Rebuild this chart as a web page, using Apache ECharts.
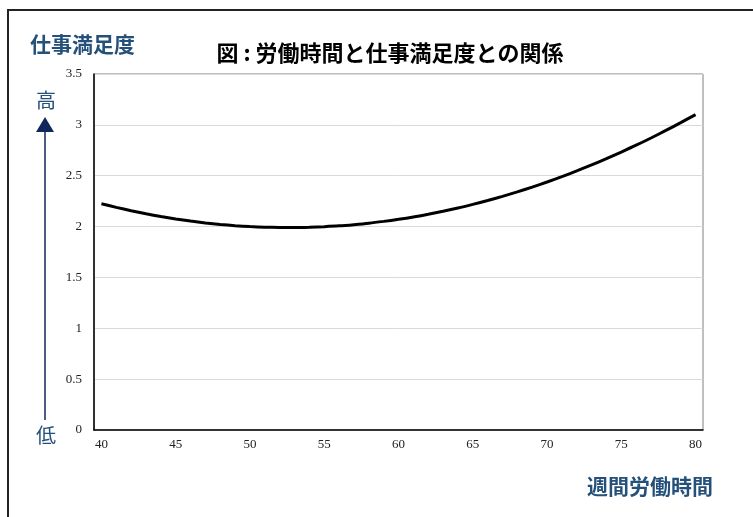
<!DOCTYPE html>
<html>
<head>
<meta charset="utf-8">
<script src="https://cdn.jsdelivr.net/npm/echarts@6/dist/echarts.min.js"></script>
<style>
  html, body { margin: 0; padding: 0; background: #fff; }
  #chart { width: 753px; height: 517px; }
</style>
</head>
<body>
<div id="chart"></div>
<script>
// weekly working hours (category axis, one per hour)
const hours = ['40','41','42','43','44','45','46','47','48','49','50',
  '51','52','53','54','55','56','57','58','59','60',
  '61','62','63','64','65','66','67','68','69','70',
  '71','72','73','74','75','76','77','78','79','80'];
// job satisfaction
const satisfaction = [2.225, 2.189, 2.156, 2.126, 2.099, 2.075, 2.054, 2.036, 2.021, 2.009, 2.000,
  1.994, 1.991, 1.990, 1.993, 1.999, 2.007, 2.019, 2.033, 2.051, 2.071,
  2.094, 2.121, 2.150, 2.182, 2.218, 2.256, 2.297, 2.341, 2.388, 2.438,
  2.491, 2.547, 2.606, 2.668, 2.733, 2.800, 2.871, 2.945, 3.022, 3.101];

const titleText = '図 : 労働時間と仕事満足度との関係';
const yName = '仕事満足度';
const xName = '週間労働時間';
const highLabel = '高';
const lowLabel = '低';

const CJK = "'Noto Sans CJK JP', 'Noto Sans', sans-serif";
const SERIF = "'Liberation Serif', 'DejaVu Serif', serif";
const BLUE = '#24507a';
const NAVY = '#10285c';

const chart = echarts.init(document.getElementById('chart'));

chart.setOption({
  animation: false,
  backgroundColor: '#fff',
  title: {
    text: titleText,
    left: 385,
    top: 37,
    textAlign: 'center',
    textStyle: { fontFamily: CJK, fontSize: 22, fontWeight: 'bold', color: '#000' }
  },
  grid: {
    left: 94, right: 50, top: 74, bottom: 87,
    show: true, borderColor: '#808080', borderWidth: 1
  },
  xAxis: {
    type: 'category',
    data: hours,
    boundaryGap: true,
    axisLine: { lineStyle: { color: '#000', width: 1.5 } },
    axisTick: { show: false },
    axisLabel: {
      interval: 4, margin: 8,
      fontFamily: SERIF, fontSize: 13, color: '#222'
    },
    splitLine: { show: false }
  },
  yAxis: {
    type: 'value',
    min: 0, max: 3.5, interval: 0.5,
    axisLine: { show: true, lineStyle: { color: '#000', width: 1.5 } },
    axisTick: { show: false },
    axisLabel: { margin: 12, fontFamily: SERIF, fontSize: 13, color: '#222' },
    splitLine: { lineStyle: { color: '#d9d9d9', width: 1 } }
  },
  series: [{
    type: 'line',
    data: satisfaction,
    smooth: 0.3,
    showSymbol: false,
    lineStyle: { color: '#000', width: 3 }
  }],
  graphic: [
    // outer frame (cropped at right and bottom)
    { type: 'rect', shape: { x: 8, y: 10, width: 800, height: 600 },
      style: { fill: 'none', stroke: '#222', lineWidth: 2 }, silent: true },
    { type: 'text', left: 30, top: 34,
      style: { text: yName, fontFamily: CJK, fontSize: 21, fontWeight: 'bold', fill: BLUE } },
    { type: 'text', left: 587, top: 476,
      style: { text: xName, fontFamily: CJK, fontSize: 21, fontWeight: 'bold', fill: BLUE } },
    { type: 'text', x: 46, y: 100,
      style: { text: highLabel, fontFamily: CJK, fontSize: 20, fill: BLUE, align: 'center', verticalAlign: 'middle' } },
    { type: 'text', x: 46, y: 435,
      style: { text: lowLabel, fontFamily: CJK, fontSize: 20, fill: BLUE, align: 'center', verticalAlign: 'middle' } },
    { type: 'line', shape: { x1: 45, y1: 420, x2: 45, y2: 128 },
      style: { stroke: NAVY, lineWidth: 1.5 } },
    { type: 'polygon', shape: { points: [[45, 117], [36, 132], [54, 132]] },
      style: { fill: NAVY } }
  ]
});
</script>
</body>
</html>
